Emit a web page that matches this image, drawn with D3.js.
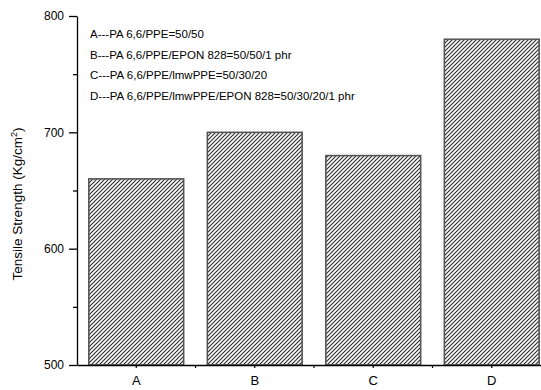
<!DOCTYPE html>
<html>
<head>
<meta charset="utf-8">
<script src="https://cdn.jsdelivr.net/npm/d3@7/dist/d3.min.js"></script>
<style>
  body { margin: 0; background: #fff; }
  text { font-family: "Liberation Sans", Arial, sans-serif; }
</style>
</head>
<body>
<div id="chart"></div>
<script>
var categories = ["A", "B", "C", "D"];
var strength = [660, 700, 680, 780];
var yTicks = [500, 600, 700, 800];
var yMinorTicks = [550, 650, 750];
var legendLines = [
  "A---PA 6,6/PPE=50/50",
  "B---PA 6,6/PPE/EPON 828=50/50/1 phr",
  "C---PA 6,6/PPE/lmwPPE=50/30/20",
  "D---PA 6,6/PPE/lmwPPE/EPON 828=50/30/20/1 phr"
];

var width = 541, height = 390;

var svg = d3.select("#chart")
  .append("svg")
  .attr("width", width)
  .attr("height", height);

// hatch pattern ///
var defs = svg.append("defs");
var pat = defs.append("pattern")
  .attr("id", "hatch")
  .attr("patternUnits", "userSpaceOnUse")
  .attr("width", 4)
  .attr("height", 4);
pat.append("rect").attr("width", 4).attr("height", 4).attr("fill", "#fff");
pat.append("path")
  .attr("d", "M-1,1 l2,-2 M0,4 l4,-4 M3,5 l2,-2")
  .attr("stroke", "#333")
  .attr("stroke-width", 1.2);

var x = d3.scaleBand()
  .domain(categories)
  .range([77, 551])
  .paddingInner(0.2)
  .paddingOuter(0.1);

var y = d3.scaleLinear()
  .domain([500, 800])
  .range([365, 16]);

// bars
svg.selectAll(".bar")
  .data(categories)
  .enter().append("rect")
  .attr("class", "bar")
  .attr("x", function(d) { return x(d); })
  .attr("y", function(d, i) { return y(strength[i]); })
  .attr("width", x.bandwidth())
  .attr("height", function(d, i) { return y(500) - y(strength[i]); })
  .attr("fill", "url(#hatch)")
  .attr("stroke", "#555")
  .attr("stroke-width", 1.6);

// y axis
var yAxis = svg.append("g")
  .attr("transform", "translate(77,0)")
  .call(d3.axisLeft(y).tickValues(yTicks).tickSize(8).tickSizeOuter(0).tickFormat(d3.format("d")));
yAxis.select(".domain").attr("stroke", "#000").attr("stroke-width", 1.3);
yAxis.selectAll(".tick line").attr("stroke-width", 1.3);
yAxis.selectAll(".tick text").attr("font-size", 12).attr("fill", "#000").attr("x", -13);

svg.append("g")
  .attr("transform", "translate(77,0)")
  .call(d3.axisLeft(y).tickValues(yMinorTicks).tickSize(4).tickFormat(""))
  .call(function(g) { g.select(".domain").remove(); })
  .selectAll(".tick line").attr("stroke-width", 1.3);

// x axis
var xAxis = svg.append("g")
  .attr("transform", "translate(0,365)")
  .call(d3.axisBottom(x).tickSize(3).tickSizeOuter(0));
xAxis.select(".domain").attr("stroke", "#000").attr("stroke-width", 1.3);
xAxis.selectAll(".tick line").attr("stroke-width", 1.2);
xAxis.selectAll(".tick text").attr("font-size", 13).attr("fill", "#000").attr("dy", "1.05em");

// minor ticks between categories
var bounds = categories.slice(1).map(function(d) { return x(d) - x.step() * x.paddingInner() / 2; });
svg.selectAll(".xminor")
  .data(bounds)
  .enter().append("line")
  .attr("x1", function(d) { return d; })
  .attr("x2", function(d) { return d; })
  .attr("y1", 365)
  .attr("y2", 368)
  .attr("stroke", "#000")
  .attr("stroke-width", 1.2);

// y label
var yl = svg.append("text")
  .attr("transform", "translate(22,204) rotate(-90)")
  .attr("text-anchor", "middle")
  .attr("font-size", 13.5);
yl.append("tspan").text("Tensile Strength (Kg/cm");
yl.append("tspan").attr("baseline-shift", "super").attr("font-size", 9).text("2");
yl.append("tspan").text(")");

// legend text
svg.selectAll(".legend")
  .data(legendLines)
  .enter().append("text")
  .attr("class", "legend")
  .attr("x", 90)
  .attr("y", function(d, i) { return 38 + i * 20.5; })
  .attr("font-size", 11.5)
  .text(function(d) { return d; });
</script>
</body>
</html>
